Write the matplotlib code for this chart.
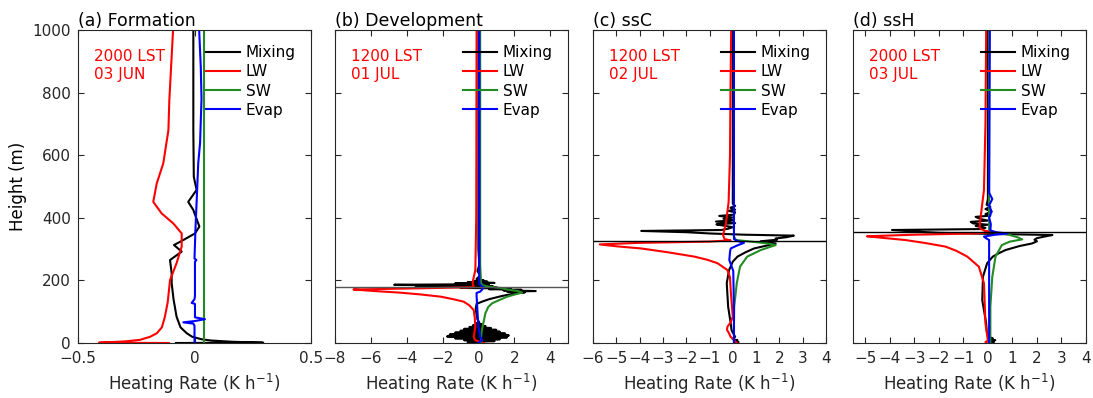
import matplotlib
matplotlib.use("Agg")
import matplotlib.pyplot as plt
import numpy as np

# profiles: (height m, heating rate K/h)
a_mixing = [(0, -0.08), (1, 0.295), (4, 0.16), (8, 0.07), (12, 0.03), (20, -0.01),
            (31, -0.033), (50, -0.06), (84, -0.077), (140, -0.09), (191, -0.098),
            (223, -0.098), (265, -0.105), (292, -0.055), (313, -0.088), (329, -0.048),
            (350, 0.002), (372, 0.021), (425, -0.005), (451, -0.027), (489, 0.009),
            (531, -0.003), (680, -0.005), (1000, -0.005)]
a_lw = [(0, -0.11), (1, -0.41), (5, -0.3), (10, -0.234), (20, -0.19), (31, -0.162),
        (50, -0.14), (84, -0.127), (130, -0.115), (201, -0.105), (255, -0.077),
        (308, -0.055), (350, -0.055), (382, -0.091), (414, -0.141), (451, -0.177),
        (510, -0.162), (574, -0.134), (680, -0.112), (776, -0.108), (1000, -0.092)]
a_sw = [(0, 0.042), (1000, 0.042)]
a_evap = [(0, 0.0), (55, 0.0), (62, -0.005), (66, -0.048), (70, 0.0), (76, 0.045),
          (82, 0.002), (125, 0.002), (128, -0.012), (140, 0.0), (150, 0.002),
          (260, 0.002), (265, 0.008), (270, 0.0), (361, 0.004), (467, 0.01),
          (574, 0.016), (640, 0.024), (780, 0.03), (880, 0.027), (1000, 0.02)]

b_mixing = [(0, 0.3), (3, -0.6), (6, 0.9), (9, -0.8), (12, 1.2), (15, -1.3), (18, 1.6),
            (21, -1.75), (24, 1.7), (27, -1.6), (30, 1.5), (33, -1.3), (36, 1.2),
            (39, -1.0), (42, 1.0), (45, -0.8), (48, 0.7), (51, -0.5), (54, 0.4),
            (57, -0.3), (60, 0.2), (63, -0.15), (66, 0.05), (75, -0.05), (90, -0.1),
            (110, -0.15), (125, -0.1), (132, 0.2), (140, 0.6), (150, 1.3), (158, 2.0),
            (162, 2.6), (164, 1.6), (166, 3.2), (168, 1.4), (170, 2.4), (172, 0.6),
            (174, 1.8), (176, -1.0), (178, 1.0), (180, -3.5), (182, 0.8), (184, -2.2),
            (186, -4.7), (188, 0.6), (190, -1.3), (192, 0.9), (194, -0.6), (196, 0.5),
            (198, -0.3), (200, 0.3), (205, -0.1), (215, 0.1), (230, -0.05), (250, 0.05),
            (300, 0.0), (1000, 0.0)]
b_lw = [(0, 0.3), (3, 0.1), (10, -0.2), (20, -0.26), (52, -0.17), (80, -0.2),
        (105, -0.26), (120, -0.5), (132, -0.82), (140, -1.4), (148, -2.1), (155, -3.2),
        (161, -4.4), (166, -5.8), (171, -6.97), (175, -3.0), (178, -0.4), (180, -0.25),
        (185, -0.3), (191, -0.32), (200, -0.3), (233, -0.17), (400, -0.12), (1000, -0.1)]
b_sw = [(0, 0.15), (20, 0.15), (42, 0.2), (70, 0.3), (95, 0.39), (115, 0.55),
        (127, 0.77), (138, 1.2), (148, 1.6), (156, 2.1), (161, 2.44), (166, 2.2),
        (171, 1.6), (176, 1.23), (180, 0.6), (184, 0.28), (190, 0.15), (250, 0.1),
        (1000, 0.1)]
b_evap = [(0, 0.0), (10, 0.2), (20, 0.1), (50, 0.0), (100, -0.05), (150, -0.1),
          (160, -0.1), (164, 0.1), (170, 0.2), (178, 0.3), (182, 0.15), (190, 0.05),
          (300, 0.05), (1000, 0.05)]

c_mixing = [(0, 0.1), (3, 0.25), (6, 0.05), (9, 0.2), (12, 0.0), (20, 0.1), (40, -0.05),
            (63, -0.09), (116, -0.2), (191, -0.26), (233, -0.16), (260, 0.0), (276, 0.2),
            (290, 0.55), (302, 0.91), (312, 1.5), (318, 1.84), (325, 1.2), (330, 1.9),
            (334, 1.84), (338, 2.3), (343, 2.62), (346, 0.5), (350, -1.0), (354, -2.0),
            (358, -3.93), (361, -0.5), (365, -0.2), (370, 0.0), (375, -0.4), (379, -0.7),
            (383, 0.1), (388, -0.72), (392, 0.05), (397, -0.4), (401, 0.0), (406, -0.58),
            (410, 0.05), (418, 0.1), (422, -0.2), (426, 0.1), (432, -0.1), (438, 0.1),
            (445, 0.0), (460, 0.0), (1000, 0.0)]
c_lw = [(0, 0.18), (5, 0.1), (10, 0.06), (20, -0.1), (31, -0.16), (42, -0.25),
        (52, -0.23), (65, -0.1), (84, 0.0), (130, -0.05), (169, -0.09), (210, -0.12),
        (233, -0.23), (255, -0.66), (266, -1.1), (276, -1.65), (290, -2.8), (302, -3.93),
        (309, -5.0), (315, -5.71), (320, -4.0), (324, -1.0), (328, -0.1), (332, -0.35),
        (345, -0.42), (380, -0.3), (450, -0.18), (600, -0.12), (800, -0.1), (1000, -0.07)]
c_sw = [(0, 0.05), (60, 0.05), (116, 0.06), (191, 0.17), (244, 0.31), (276, 0.62),
        (297, 1.2), (307, 1.6), (313, 1.84), (318, 1.5), (324, 0.77), (329, 0.14),
        (340, 0.05), (1000, 0.05)]
c_evap = [(0, 0.05), (100, 0.05), (230, 0.02), (265, -0.15), (291, -0.12), (302, -0.09),
          (312, 0.2), (320, 0.48), (326, 0.2), (332, 0.05), (1000, 0.05)]

d_mixing = [(0, 0.05), (3, 0.25), (6, 0.0), (9, 0.3), (12, 0.05), (15, 0.2), (20, 0.0),
            (40, -0.05), (63, -0.07), (137, -0.23), (212, -0.2), (255, -0.03), (276, 0.2),
            (287, 0.45), (297, 0.72), (310, 1.3), (318, 1.8), (325, 2.0), (330, 1.9),
            (335, 2.0), (340, 2.3), (345, 2.63), (348, 0.5), (352, -2.0), (356, -3.0),
            (361, -3.91), (364, -0.3), (368, -0.1), (374, -0.5), (378, 0.0), (382, -0.6),
            (387, -0.7), (391, 0.0), (396, -0.3), (403, -0.5), (407, 0.1), (412, -0.1),
            (420, 0.15), (428, -0.1), (435, 0.1), (442, -0.05), (460, 0.0), (1000, 0.0)]
d_lw = [(0, -0.05), (3, -0.1), (8, 0.0), (63, -0.1), (191, -0.16), (244, -0.37),
        (276, -0.84), (295, -1.3), (308, -1.73), (320, -2.6), (329, -3.37), (336, -4.3),
        (341, -4.93), (346, -3.0), (350, -0.5), (355, 0.3), (358, -0.1), (365, -0.3),
        (372, -0.34), (425, -0.26), (489, -0.16), (700, -0.1), (1000, -0.07)]
d_sw = [(0, 0.1), (116, 0.1), (212, 0.18), (276, 0.31), (313, 0.57), (324, 0.9),
        (331, 1.4), (338, 1.2), (346, 0.85), (355, 0.17), (362, 0.05), (1000, 0.05)]
d_evap = [(0, 0.05), (200, 0.05), (329, 0.05), (336, -0.1), (340, -0.16), (346, 0.3),
          (350, 0.8), (354, 0.3), (360, 0.1), (380, 0.12), (400, 0.05), (420, 0.15),
          (440, 0.05), (460, 0.18), (480, 0.05), (1000, 0.08)]

titles = ["(a) Formation", "(b) Development", "(c) ssC", "(d) ssH"]
times = ["2000 LST\n03 JUN", "1200 LST\n01 JUL", "1200 LST\n02 JUL", "2000 LST\n03 JUL"]
xlims = [(-0.5, 0.5), (-8, 5), (-6, 4), (-5.5, 4)]
xticks = [[-0.5, 0, 0.5], [-8, -6, -4, -2, 0, 2, 4], list(range(-6, 5)), list(range(-5, 5))]
top_heights = [None, 179, 325, 354]
profiles = [
    [a_mixing, a_lw, a_sw, a_evap],
    [b_mixing, b_lw, b_sw, b_evap],
    [c_mixing, c_lw, c_sw, c_evap],
    [d_mixing, d_lw, d_sw, d_evap],
]
names = ["Mixing", "LW", "SW", "Evap"]
colors = ["black", "#ff0000", "#228b22", "#0000ff"]

fig = plt.figure(figsize=(10.93, 3.98), dpi=100)
lefts = [78, 335, 593, 853]

for i in range(4):
    ax = fig.add_axes([lefts[i] / 1093, 55 / 398, 233 / 1093, 313 / 398])
    for prof, name, col in zip(profiles[i], names, colors):
        arr = np.array(prof)
        ax.plot(arr[:, 1], arr[:, 0], color=col, lw=1.5, label=name)
    if top_heights[i] is not None:
        lc = "#555555" if i == 1 else "black"
        ax.axhline(top_heights[i], color=lc, lw=1.0)

    ax.set_xlim(xlims[i])
    ax.set_ylim(0, 1000)
    ax.set_xticks(xticks[i])
    if i == 0:
        ax.set_xticklabels(["\u22120.5", "0", "0.5"])
    ax.set_yticks([0, 200, 400, 600, 800, 1000])
    if i == 0:
        ax.set_ylabel("Height (m)", fontsize=12)
    else:
        ax.set_yticklabels([])
    ax.tick_params(direction="in", top=True, right=True, length=4, width=0.8,
                   labelsize=11, colors="#262626")
    ax.tick_params(axis="x", pad=6)
    ax.tick_params(axis="y", pad=5)
    for sp in ax.spines.values():
        sp.set_color("#262626")
        sp.set_linewidth(0.8)
    ax.set_xlabel("Heating Rate (K h$^{-1}$)", fontsize=12, color="#262626")
    ax.set_title(titles[i], loc="left", fontsize=12.5, pad=3)
    ax.text(0.07, 0.94, times[i], transform=ax.transAxes, color="#ff0000",
            fontsize=11, va="top", ha="left", linespacing=1.3)
    ax.legend(loc="upper right", frameon=False, fontsize=11, handlelength=2.2,
              labelspacing=0.27, borderaxespad=0.6, handletextpad=0.4)

fig.savefig("out.png", dpi=100)
